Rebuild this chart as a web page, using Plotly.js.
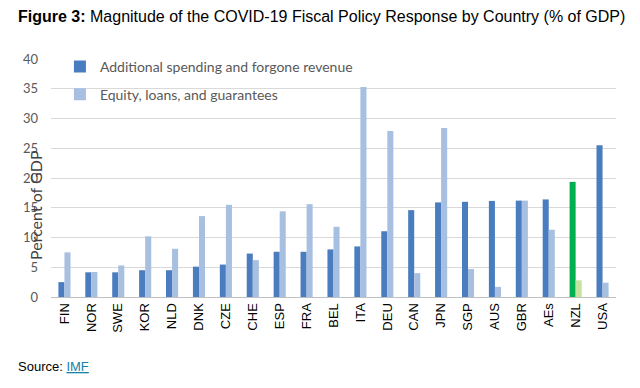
<!DOCTYPE html>
<html>
<head>
<meta charset="utf-8">
<script src="https://cdn.plot.ly/plotly-3.0.1.min.js"></script>
<style>html,body{margin:0;padding:0;background:#fff;}#chart{width:640px;height:388px;}</style>
</head>
<body>
<div id="chart"></div>
<script>
var countries = ["FIN","NOR","SWE","KOR","NLD","DNK","CZE","CHE","ESP","FRA","BEL","ITA","DEU","CAN","JPN","SGP","AUS","GBR","AEs","NZL","USA"];
var spending = [2.5,4.15,4.15,4.5,4.5,5.1,5.45,7.3,7.6,7.6,8.0,8.5,11.05,14.6,15.9,16.0,16.15,16.2,16.4,19.35,25.5];
var equity = [7.5,4.2,5.3,10.2,8.1,13.6,15.5,6.2,14.4,15.6,11.8,35.3,27.9,4.0,28.4,4.7,1.7,16.2,11.3,2.8,2.4];
var yTicks = [0,5,10,15,20,25,30,35,40];
var highlight = "NZL";

var darkBlue = "#4a7dbf", lightBlue = "#a7bfe0", green = "#00b050", lightGreen = "#c6e2a2";
var c1 = countries.map(function(c){return c===highlight?green:darkBlue;});
var c2 = countries.map(function(c){return c===highlight?lightGreen:lightBlue;});

var txtFont = "Lato, 'Open Sans', sans-serif";
var data = [
  {type:"bar", x:countries, y:spending, name:"Additional spending and forgone revenue", marker:{color:c1}, legend:"legend"},
  {type:"bar", x:countries, y:equity, name:"Equity, loans, and guarantees", marker:{color:c2}, legend:"legend2"}
];
var layout = {
  width:640, height:388,
  margin:{l:51, r:24, t:59, b:91},
  paper_bgcolor:"#fff", plot_bgcolor:"#fff",
  barmode:"group", bargap:0.55, bargroupgap:0,
  font:{family:txtFont, color:"#595959"},
  title:{text:"<b>Figure 3:</b> Magnitude of the COVID-19 Fiscal Policy Response by Country (% of GDP)",
    font:{family:"'Liberation Sans', Arial, sans-serif", size:16, color:"#000"},
    x:18/640, xanchor:"left", xref:"container", y:1-16/388, yanchor:"middle", yref:"container"},
  xaxis:{tickangle:-90, tickfont:{family:"'Liberation Sans', Arial, sans-serif", size:13, color:"#000"},
    showline:true, linecolor:"#c0c0c0", linewidth:1, ticks:"", showgrid:false, fixedrange:true},
  yaxis:{range:[0,40], tickvals:yTicks, ticktext:yTicks.map(String), showgrid:true, gridcolor:"#d9d9d9", gridwidth:1,
    zeroline:false, ticks:"", tickfont:{size:13, color:"#595959", family:txtFont}, ticklabelstandoff:12, fixedrange:true},
  showlegend:true,
  legend:{x:0.0158, xanchor:"left", y:1.034, yanchor:"top", font:{size:14, color:"#595959", family:txtFont}, bgcolor:"rgba(0,0,0,0)"},
  legend2:{x:0.0158, xanchor:"left", y:0.917, font:{size:14, color:"#595959", family:txtFont}, bgcolor:"rgba(0,0,0,0)"},
  annotations:[
    {text:"Percent of GDP", textangle:-90, xref:"paper", yref:"paper", x:(35-51)/565, y:(297-205)/238,
      xanchor:"center", yanchor:"middle", showarrow:false, font:{size:16, color:"#404040", family:txtFont}},
    {text:"Source: <span style=\"color:#1a80a6;text-decoration:underline\">IMF</span>", xref:"paper", yref:"paper",
      x:-35/565, y:-(366-297)/238, xanchor:"left", yanchor:"middle", showarrow:false,
      font:{size:13, color:"#000", family:"'Liberation Sans', Arial, sans-serif"}}
  ]
};
Plotly.newPlot("chart", data, layout, {staticPlot:true});
</script>
</body>
</html>
